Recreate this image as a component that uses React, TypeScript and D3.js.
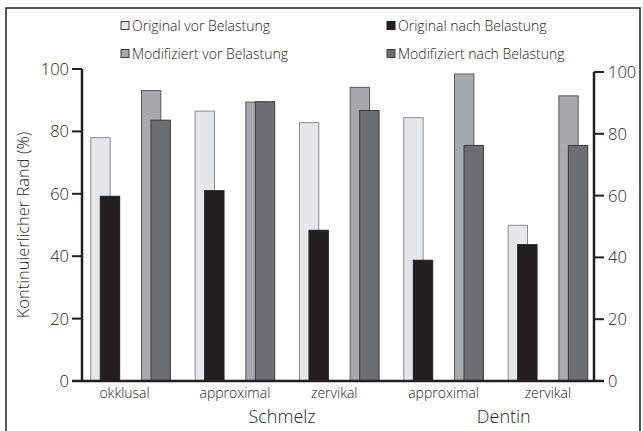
import React from "react";
import * as d3 from "d3";

const groups = ["okklusal", "approximal", "zervikal", "approximal ", "zervikal "];
const groupLabels = ["okklusal", "approximal", "zervikal", "approximal", "zervikal"];
const tissues = ["Schmelz", "Dentin"];
const seriesNames = ["Original vor Belastung", "Original nach Belastung", "Modifiziert vor Belastung", "Modifiziert nach Belastung"];
const originalVor = [78.0, 86.5, 82.8, 84.4, 49.9];
const originalNach = [59.2, 61.0, 48.3, 38.7, 43.7];
const modifiziertVor = [93.1, 89.4, 94.1, 98.4, 91.4];
const modifiziertNach = [83.6, 89.5, 86.7, 75.5, 75.5];
const yTicks = [0, 20, 40, 60, 80, 100];

const fills = ["#e6e7e8", "#231f20", "#a7a9ac", "#6d6e71"];
const strokes = ["#8a8c8f", "#231f20", "#58595b", "#3a3a3c"];
const FONT = "'Open Sans', Lato, sans-serif";

export default function App() {
  const W = 643, H = 431;
  const baseY = 381;
  const yL = d3.scaleLinear().domain([0, 100]).range([baseY, 69]);
  const yR = d3.scaleLinear().domain([0, 100]).range([baseY, 72]);
  const axL = 82, axR = 594;
  const x0 = d3.scaleBand<string>().domain(groups).range([84.5, axR]).paddingInner(0.237).paddingOuter(0.06);
  const pair = d3.scaleBand<string>().domain(["O", "M"]).range([0, x0.bandwidth()]).paddingInner(0.43).paddingOuter(0);
  const bw = pair.bandwidth() * 0.67;
  const series = [originalVor, originalNach, modifiziertVor, modifiziertNach];
  const barX = (gi: number, si: number) => {
    const gx = x0(groups[gi])!;
    const p = pair(si < 2 ? "O" : "M")!;
    return gx + p + (si % 2 === 0 ? 0 : pair.bandwidth() - bw);
  };
  const center = (gi: number) => x0(groups[gi])! + x0.bandwidth() / 2;
  const tissueX = [(center(1) + center(2)) / 2 - 5, (center(3) + center(4)) / 2 + 8];
  const dark = "#231f20";

  const legendPos = [
    { x: 121, y: 26 },
    { x: 387, y: 26 },
    { x: 121, y: 54 },
    { x: 387, y: 54 },
  ];

  return (
    <svg width={W} height={H} style={{ position: "absolute", left: 0, top: 0, background: "#fff" }} fontFamily={FONT} fontWeight={300}>
      <rect x={6} y={8} width={634} height={440} fill="none" stroke={dark} strokeWidth={1.5} />
      {seriesNames.map((n, i) => (
        <g key={n}>
          <rect x={legendPos[i].x} y={legendPos[i].y - 4.5} width={8} height={8} fill={fills[i]} stroke={i === 1 ? dark : "#414042"} strokeWidth={1} />
          <text x={legendPos[i].x + 11} y={legendPos[i].y + 5} fontSize={14} fill={dark}>{n}</text>
        </g>
      ))}
      {groups.map((g, gi) => (
        <g key={g}>
          {series.map((s, si) => (
            <rect key={si} x={barX(gi, si)} y={yL(s[gi])} width={bw} height={baseY - yL(s[gi])}
              fill={fills[si]} stroke={strokes[si]} strokeWidth={1} />
          ))}
        </g>
      ))}
      <line x1={axL} x2={axL} y1={yL(100)} y2={baseY} stroke={dark} strokeWidth={2.5} />
      {yTicks.map((t) => (
        <g key={"l" + t}>
          <line x1={axL - 10} x2={axL} y1={yL(t)} y2={yL(t)} stroke={dark} strokeWidth={2} />
          <text x={axL - 13} y={yL(t)} dy="0.36em" textAnchor="end" fontSize={16.5} fill={dark}>{t}</text>
        </g>
      ))}
      <line x1={axR} x2={axR} y1={yR(100)} y2={baseY} stroke={dark} strokeWidth={2.5} />
      {yTicks.map((t) => (
        <g key={"r" + t}>
          <line x1={axR} x2={axR + 10} y1={yR(t)} y2={yR(t)} stroke={dark} strokeWidth={2} />
          <text x={axR + 14} y={yR(t)} dy="0.36em" textAnchor="start" fontSize={16.5} fill={dark}>{t}</text>
        </g>
      ))}
      <line x1={axL - 10} x2={axR + 10} y1={baseY} y2={baseY} stroke={dark} strokeWidth={2.5} />
      {groupLabels.map((l, gi) => (
        <text key={gi} x={center(gi) - (gi === 0 ? 6 : gi === 2 ? 5 : 0)} y={398} textAnchor="middle" fontSize={14} fill={dark}>{l}</text>
      ))}
      {tissues.map((t, i) => (
        <text key={t} x={tissueX[i]} y={423} textAnchor="middle" fontSize={18} fill={dark}>{t}</text>
      ))}
      <text transform={`translate(29,${(yL(100) + baseY) / 2}) rotate(-90)`} textAnchor="middle" fontSize={16.5} fill={dark}>
        Kontinuierlicher Rand (%)
      </text>
    </svg>
  );
}
